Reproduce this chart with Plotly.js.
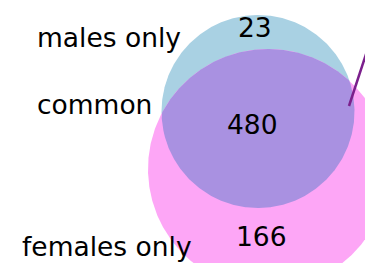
<!DOCTYPE html>
<html><head><meta charset="utf-8">
<script src="https://cdn.plot.ly/plotly-3.0.1.min.js"></script>
<style>html,body{margin:0;padding:0;background:#fff;}</style>
</head><body><div id="chart" style="width:365px;height:263px;"></div>
<script>
// Data
const regionLabels = ['males only', 'common', 'females only'];
const regionCounts = [23, 480, 166];
const setNames = ['males', 'females'];

// Geometry (pixel-like coordinate space)
const circles = {
  males:   {cx: 258, cy: 111.5, r: 96.5, color: '#a9d1e3'},
  females: {cx: 268, cy: 169,   r: 120,  color: '#fda6f6'}
};
const overlapColor = '#a991e1';

function circlePts(c, n) {
  const xs = [], ys = [];
  for (let i = 0; i <= n; i++) {
    const t = 2 * Math.PI * i / n;
    xs.push(c.cx + c.r * Math.cos(t)); ys.push(c.cy + c.r * Math.sin(t));
  }
  return {xs, ys};
}
function inside(c, x, y) { return (x - c.cx) ** 2 + (y - c.cy) ** 2 <= c.r * c.r + 1e-6; }

const A = circles.males, B = circles.females;
const pa = circlePts(A, 720), pb = circlePts(B, 720);
let pts = [];
pa.xs.forEach((x, i) => { if (inside(B, x, pa.ys[i])) pts.push([x, pa.ys[i]]); });
pb.xs.forEach((x, i) => { if (inside(A, x, pb.ys[i])) pts.push([x, pb.ys[i]]); });
const mx = pts.reduce((s, p) => s + p[0], 0) / pts.length;
const my = pts.reduce((s, p) => s + p[1], 0) / pts.length;
pts.sort((p, q) => Math.atan2(p[1] - my, p[0] - mx) - Math.atan2(q[1] - my, q[0] - mx));
pts.push(pts[0]);

const traces = [
  {x: pa.xs, y: pa.ys, fill: 'toself', fillcolor: A.color, mode: 'lines', line: {width: 0}, name: setNames[0], hoverinfo: 'skip'},
  {x: pb.xs, y: pb.ys, fill: 'toself', fillcolor: B.color, mode: 'lines', line: {width: 0}, name: setNames[1], hoverinfo: 'skip'},
  {x: pts.map(p => p[0]), y: pts.map(p => p[1]), fill: 'toself', fillcolor: overlapColor, mode: 'lines', line: {width: 0}, name: 'overlap', hoverinfo: 'skip'},
  {x: [349, 372], y: [106, 36], mode: 'lines', line: {color: '#7b1f8c', width: 2.5}, hoverinfo: 'skip'}
];

const font = {family: 'DejaVu Sans', size: 26.5, color: '#000'};
const labelPos = [[109, 37], [94, 104], [107, 246]];
const countPos = [[255, 27], [252, 124], [261, 236]];
const annotations = [];
regionLabels.forEach((t, i) => annotations.push({x: labelPos[i][0], y: labelPos[i][1], text: t, showarrow: false, xanchor: 'center', yanchor: 'middle', font}));
regionCounts.forEach((v, i) => annotations.push({x: countPos[i][0], y: countPos[i][1], text: String(v), showarrow: false, xanchor: 'center', yanchor: 'middle', font}));

const layout = {
  width: 365, height: 263,
  margin: {l: 0, r: 0, t: 0, b: 0},
  paper_bgcolor: '#fff', plot_bgcolor: '#fff',
  showlegend: false,
  xaxis: {range: [0, 365], visible: false, fixedrange: true},
  yaxis: {range: [263, 0], visible: false, fixedrange: true},
  annotations
};
Plotly.newPlot('chart', traces, layout, {staticPlot: true, displayModeBar: false});
</script></body></html>
